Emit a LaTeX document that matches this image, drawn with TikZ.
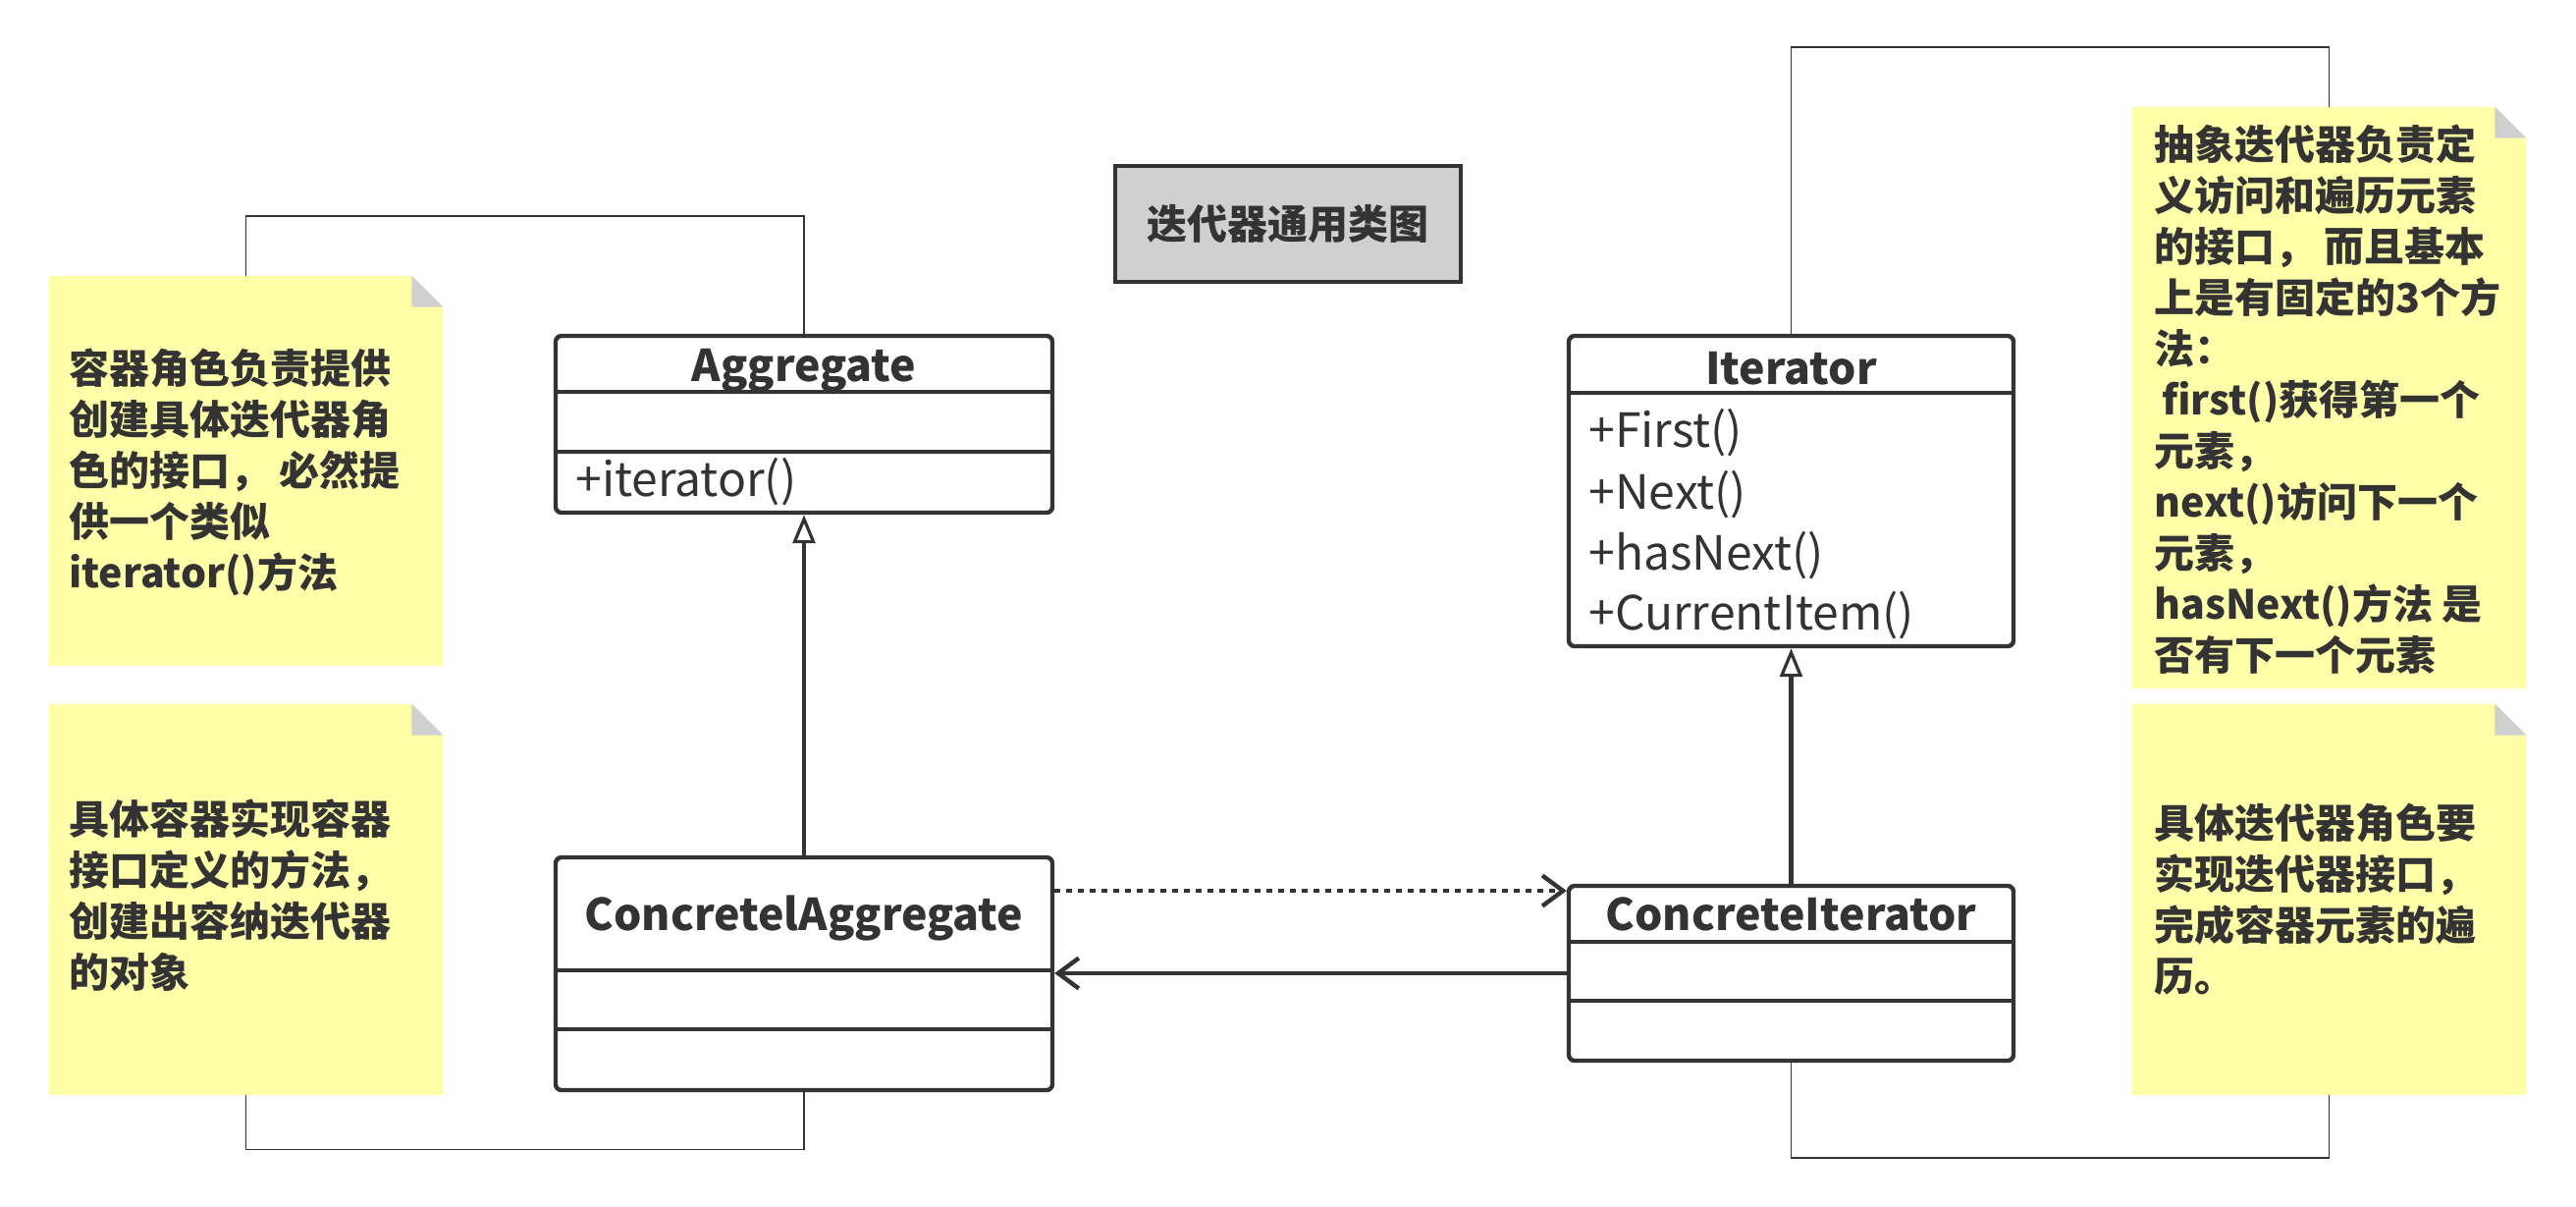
\documentclass[tikz,border=0pt]{standalone}
\usepackage{fontspec}
\setmainfont{Noto Sans CJK SC}
\usetikzlibrary{arrows.meta}
\definecolor{ink}{HTML}{333333}
\definecolor{noteY}{HTML}{FFFFAA}
\definecolor{foldG}{HTML}{D0D0D0}
\newcommand\dogear[1]{%
  \fill[white] ([xshift=-16pt]#1.north east) -- (#1.north east) -- ([yshift=-16pt]#1.north east) -- cycle;
  \fill[foldG] ([xshift=-16pt]#1.north east) -- ([xshift=-16pt,yshift=-16pt]#1.north east) -- ([yshift=-16pt]#1.north east) -- cycle;}
\begin{document}
\begin{tikzpicture}[x=0.5pt,y=-0.5pt,
  notebox/.style={fill=noteY, draw=none, inner sep=0, minimum width=200.5pt},
  notetext/.style={text=ink, anchor=west, align=left, inner sep=0, font=\bfseries\fontsize{20.5}{26}\selectfont},
  cls/.style={draw=ink, line width=2.2pt, rounded corners=3pt, fill=white, inner sep=0},
  div/.style={draw=ink, line width=2pt},
  clsname/.style={text=ink, anchor=base, inner sep=0, font=\bfseries\fontsize{22.3}{26}\selectfont},
  method/.style={text=ink, anchor=base west, inner sep=0, font=\fontsize{24}{28}\selectfont},
  thinline/.style={draw=ink, line width=0.9pt},
  thickline/.style={draw=ink, line width=2.2pt},
  gen/.style={thickline, -{Triangle[open, length=14.5pt, width=11.5pt, line width=1.6pt]}},
  barb/.style={-{Straight Barb[length=10.5pt, width=15.5pt, line width=2.2pt]}},
]
\useasboundingbox[fill=white] (0,0) rectangle (2624,1228);

% notes
\node[notebox, minimum height=198.5pt] (n1) at (250.5,479.5) {};
\node[notebox, minimum height=199pt] (n2) at (250.5,916) {};
\node[notebox, minimum height=296pt] (n3) at (2372.5,405) {};
\node[notebox, minimum height=199pt] (n4) at (2372.5,916) {};
\dogear{n1}\dogear{n2}\dogear{n3}\dogear{n4}

\node[notetext] (n1t) at (70,481) {容器角色负责提供\\创建具体迭代器角\\色的接口， 必然提\\供一个类似\\iterator()方法};
\node[notetext] (n2t) at (70,912) {具体容器实现容器\\接口定义的方法，\\创建出容纳迭代器\\的对象};
\node[notetext] (n3t) at (2194,407) {抽象迭代器负责定\\义访问和遍历元素\\的接口， 而且基本\\上是有固定的3个方\\法：\\\hspace*{4pt}first()获得第一个\\元素，\\next()访问下一个\\元素，\\hasNext()方法 是\\否有下一个元素};
\node[notetext] (n4t) at (2194,916) {具体迭代器角色要\\实现迭代器接口，\\完成容器元素的遍\\历。};

% title
\node[fill=foldG, draw=ink, line width=2pt, minimum width=176pt, minimum height=59pt, inner sep=0,
      text=ink, font=\bfseries\fontsize{20.5}{26}\selectfont] (ttl) at (1312,228) {迭代器通用类图};

% class boxes
\node[cls, minimum width=253pt, minimum height=90pt] (agg) at (819,432) {};
\node[cls, minimum width=253pt, minimum height=118.5pt] (cagg) at (819,991.5) {};
\node[cls, minimum width=226.5pt, minimum height=158pt] (it) at (1824.5,500) {};
\node[cls, minimum width=226.5pt, minimum height=89pt] (cit) at (1824.5,991) {};

\draw[div] ([yshift=-29.5pt]agg.north west) -- ([yshift=-29.5pt]agg.north east);
\draw[div] ([yshift=-60pt]agg.north west) -- ([yshift=-60pt]agg.north east);
\draw[div] ([yshift=-58.5pt]cagg.north west) -- ([yshift=-58.5pt]cagg.north east);
\draw[div] ([yshift=-88.5pt]cagg.north west) -- ([yshift=-88.5pt]cagg.north east);
\draw[div] ([yshift=-30pt]it.north west) -- ([yshift=-30pt]it.north east);
\draw[div] ([yshift=-29.5pt]cit.north west) -- ([yshift=-29.5pt]cit.north east);
\draw[div] ([yshift=-59.5pt]cit.north west) -- ([yshift=-59.5pt]cit.north east);

\node[clsname] (aggT) at (819,388) {Aggregate};
\node[method] (aggM) at (586,505) {+iterator()};
\node[clsname] (caggT) at (819,947) {ConcretelAggregate};
\node[clsname] (itT) at (1824.5,391) {Iterator};
\node[method] (itM1) at (1618,455) {+First()};
\node[method] (itM2) at (1618,518) {+Next()};
\node[method] (itM3) at (1618,580) {+hasNext()};
\node[method] (itM4) at (1618,641) {+CurrentItem()};
\node[clsname] (citT) at (1824.5,947) {ConcreteIterator};

% note connectors
\draw[thinline] (n1.north) -- ++(0,-61) -| (agg.north);
\draw[thinline] (n2.south) -- ++(0,55) -| (cagg.south);
\draw[thinline] (it.north) -- ++(0,-292) -| (n3.north);
\draw[thinline] (cit.south) -- ++(0,97) -| (n4.south);

% relations
\draw[gen] (cagg.north) -- (agg.south);
\draw[gen] (cit.north) -- (it.south);
\coordinate (depY) at (0,907);
\coordinate (assY) at (0,991);
\draw[thickline, barb, dash pattern=on 3pt off 3pt] (cagg.east |- depY) -- (cit.west |- depY);
\draw[thickline, barb] (cit.west |- assY) -- (cagg.east |- assY);
\end{tikzpicture}
\end{document}
